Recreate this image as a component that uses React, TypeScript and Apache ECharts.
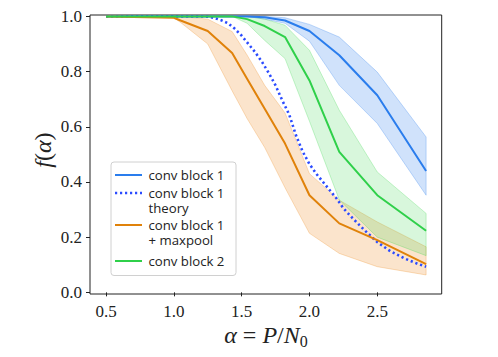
import React, { useEffect, useRef } from "react";
import * as echarts from "echarts";

// ---- data ----
const alphas = [0.5, 1.0, 1.05, 1.25, 1.43, 1.54, 1.67, 1.82, 2.0, 2.22, 2.5, 2.86];

const block1Mean = [1, 1, 1, 1, 1, 1, 0.997, 0.985, 0.947, 0.859, 0.714, 0.44];
const block1Upper = [1, 1, 1, 1, 1, 1, 1, 0.995, 0.971, 0.925, 0.798, 0.563];
const block1Lower = [1, 1, 1, 1, 1, 1, 0.99, 0.975, 0.91, 0.75, 0.612, 0.352];

const maxpoolMean = [1, 0.995, 0.985, 0.947, 0.867, 0.774, 0.665, 0.539, 0.352, 0.25, 0.189, 0.102];
const maxpoolUpper = [1, 1, 1, 0.99, 0.945, 0.86, 0.75, 0.65, 0.43, 0.334, 0.255, 0.165];
const maxpoolLower = [1, 0.995, 0.978, 0.9, 0.73, 0.63, 0.525, 0.379, 0.214, 0.141, 0.093, 0.063];

const block2Mean = [1, 1, 1, 1, 1, 0.99, 0.965, 0.925, 0.768, 0.509, 0.352, 0.223];
const block2Upper = [1, 1, 1, 1, 1, 1, 0.99, 0.968, 0.877, 0.66, 0.436, 0.286];
const block2Lower = [1, 1, 1, 1, 1, 0.975, 0.913, 0.847, 0.62, 0.335, 0.2, 0.133];

const theoryAlphas = [
  0.5, 1.2, 1.25, 1.3, 1.35, 1.4, 1.45, 1.5, 1.55, 1.6, 1.65, 1.7, 1.75, 1.8, 1.85, 1.9, 1.95,
  2.0, 2.05, 2.1, 2.15, 2.2, 2.25, 2.3, 2.35, 2.4, 2.45, 2.5, 2.6, 2.7, 2.8, 2.86,
];
const theoryF = [
  1.0, 1.0, 0.999, 0.994, 0.986, 0.975, 0.955, 0.93, 0.9, 0.87, 0.835, 0.795, 0.75, 0.695, 0.645,
  0.57, 0.51, 0.465, 0.43, 0.4, 0.37, 0.34, 0.305, 0.278, 0.253, 0.228, 0.205, 0.182, 0.148,
  0.123, 0.103, 0.093,
];

const xTicks = [0.5, 1.0, 1.5, 2.0, 2.5];
const yTicks = [0.0, 0.2, 0.4, 0.6, 0.8, 1.0];

const legendLabels = [
  "conv block 1",
  "conv block 1\ntheory",
  "conv block 1\n+ maxpool",
  "conv block 2",
];

// ---- styling ----
const BLUE = "#2a7ded";
const THEORY = "#2b4bff";
const ORANGE = "#e0820a";
const GREEN = "#2fd04a";

const BLUE_BAND = "rgba(42,125,237,0.22)";
const ORANGE_BAND = "rgba(238,148,50,0.25)";
const GREEN_BAND = "rgba(60,215,80,0.2)";

const pairs = (xs: number[], ys: number[]) => xs.map((x, i) => [x, ys[i]]);

function bandSeries(id: string, lower: number[], upper: number[], fill: string, edge: string) {
  return {
    type: "custom",
    name: id,
    silent: true,
    z: 1,
    data: alphas.map((a, i) => [a, lower[i], upper[i]]),
    encode: { x: 0, y: [1, 2] },
    renderItem: (params: any, api: any) => {
      if (params.dataIndex !== 0) return null;
      const top = alphas.map((a, i) => api.coord([a, upper[i]]));
      const bottom = alphas.map((a, i) => api.coord([a, lower[i]])).reverse();
      return {
        type: "polygon",
        shape: { points: top.concat(bottom) },
        style: { fill, stroke: edge, lineWidth: 1 },
      };
    },
  };
}

function lineSeries(name: string, xs: number[], ys: number[], color: string, dotted = false) {
  return {
    type: "line",
    name,
    data: pairs(xs, ys),
    symbol: "none",
    z: 3,
    lineStyle: dotted
      ? { color, width: 2.6, type: [2.2, 2.8], cap: "butt" }
      : { color, width: 2 },
  };
}

const SERIF = "'Liberation Serif', 'DejaVu Serif', serif";
const SANS = "'Open Sans', 'Noto Sans', sans-serif";

function legendGraphics() {
  const els: any[] = [];
  els.push({
    type: "rect",
    shape: { x: 111, y: 162, width: 125, height: 113.5, r: 3 },
    style: { fill: "rgba(255,255,255,0.85)", stroke: "#d0d0d0", lineWidth: 1 },
    z: 10,
  });
  const rows = [175, 193, 225, 261];
  const colors = [BLUE, THEORY, ORANGE, GREEN];
  rows.forEach((y, i) => {
    els.push({
      type: "line",
      shape: { x1: 115, y1: y, x2: 142, y2: y },
      style:
        i === 1
          ? { stroke: colors[i], lineWidth: 2.6, lineDash: [2.2, 2.8] }
          : { stroke: colors[i], lineWidth: 2 },
      z: 11,
    });
    els.push({
      type: "text",
      x: 148.5,
      y: y - 7.25,
      style: {
        text: legendLabels[i],
        fill: "#222",
        fontSize: 13.2,
        lineHeight: 14.5,
        fontFamily: SANS,
        verticalAlign: "top",
        align: "left",
      },
      z: 11,
    });
  });
  return els;
}

export default function App() {
  const ref = useRef<HTMLDivElement>(null);
  useEffect(() => {
    if (!ref.current) return;
    const chart = echarts.init(ref.current, undefined, { renderer: "svg" });
    const option: any = {
      animation: false,
      backgroundColor: "#fff",
      grid: {
        left: 90,
        top: 15,
        width: 351.7,
        height: 279,
        show: true,
        borderColor: "#222",
        borderWidth: 1,
        backgroundColor: "transparent",
      },
      xAxis: {
        type: "value",
        min: 0.382,
        max: 2.975,
        splitLine: { show: false },
        axisLine: { show: false },
        axisTick: {
          show: true,
          customValues: xTicks,
          length: 4,
          lineStyle: { color: "#222", width: 1 },
        },
        axisLabel: {
          customValues: xTicks,
          formatter: (v: number) => v.toFixed(1),
          fontFamily: SERIF,
          fontSize: 17,
          color: "#222",
          margin: 9,
        },
      },
      yAxis: {
        type: "value",
        min: -0.006,
        max: 1.005,
        splitLine: { show: false },
        axisLine: { show: false },
        axisTick: {
          show: true,
          customValues: yTicks,
          length: 4,
          lineStyle: { color: "#222", width: 1 },
        },
        axisLabel: {
          customValues: yTicks,
          formatter: (v: number) => v.toFixed(1),
          fontFamily: SERIF,
          fontSize: 17,
          color: "#222",
          margin: 8,
        },
      },
      series: [
        bandSeries("b1", block1Lower, block1Upper, BLUE_BAND, "rgba(42,125,237,0.28)"),
        bandSeries("mp", maxpoolLower, maxpoolUpper, ORANGE_BAND, "rgba(238,148,50,0.3)"),
        bandSeries("b2", block2Lower, block2Upper, GREEN_BAND, "rgba(60,215,80,0.28)"),
        lineSeries("conv block 1", alphas, block1Mean, BLUE),
        lineSeries("conv block 1 theory", theoryAlphas, theoryF, THEORY, true),
        lineSeries("conv block 1 + maxpool", alphas, maxpoolMean, ORANGE),
        lineSeries("conv block 2", alphas, block2Mean, GREEN),
      ],
      graphic: [
        ...legendGraphics(),
        {
          type: "text",
          x: 266,
          y: 335,
          style: {
            text: "{i|α}{n| = }{i|P}{n|/}{i|N}{s|0}",
            align: "center",
            verticalAlign: "middle",
            rich: {
              i: { fontFamily: SERIF, fontStyle: "italic", fontSize: 24, lineHeight: 28, verticalAlign: "middle", fill: "#222" },
              n: { fontFamily: SERIF, fontSize: 24, lineHeight: 28, verticalAlign: "middle", fill: "#222" },
              s: { fontFamily: SERIF, fontSize: 16, lineHeight: 16, verticalAlign: "bottom", fill: "#222" },
            },
          },
          z: 5,
        },
        {
          type: "text",
          x: 43,
          y: 150,
          rotation: Math.PI / 2,
          style: {
            text: "{i|f}{n|(}{i|α}{n|)}",
            align: "center",
            verticalAlign: "middle",
            rich: {
              i: { fontFamily: SERIF, fontStyle: "italic", fontSize: 24, fill: "#222" },
              n: { fontFamily: SERIF, fontSize: 24, fill: "#222" },
            },
          },
          z: 5,
        },
      ],
    };
    chart.setOption(option);
    return () => chart.dispose();
  }, []);
  return (
    <div
      ref={ref}
      style={{ position: "fixed", left: 0, top: 0, width: 498, height: 357 }}
    />
  );
}
